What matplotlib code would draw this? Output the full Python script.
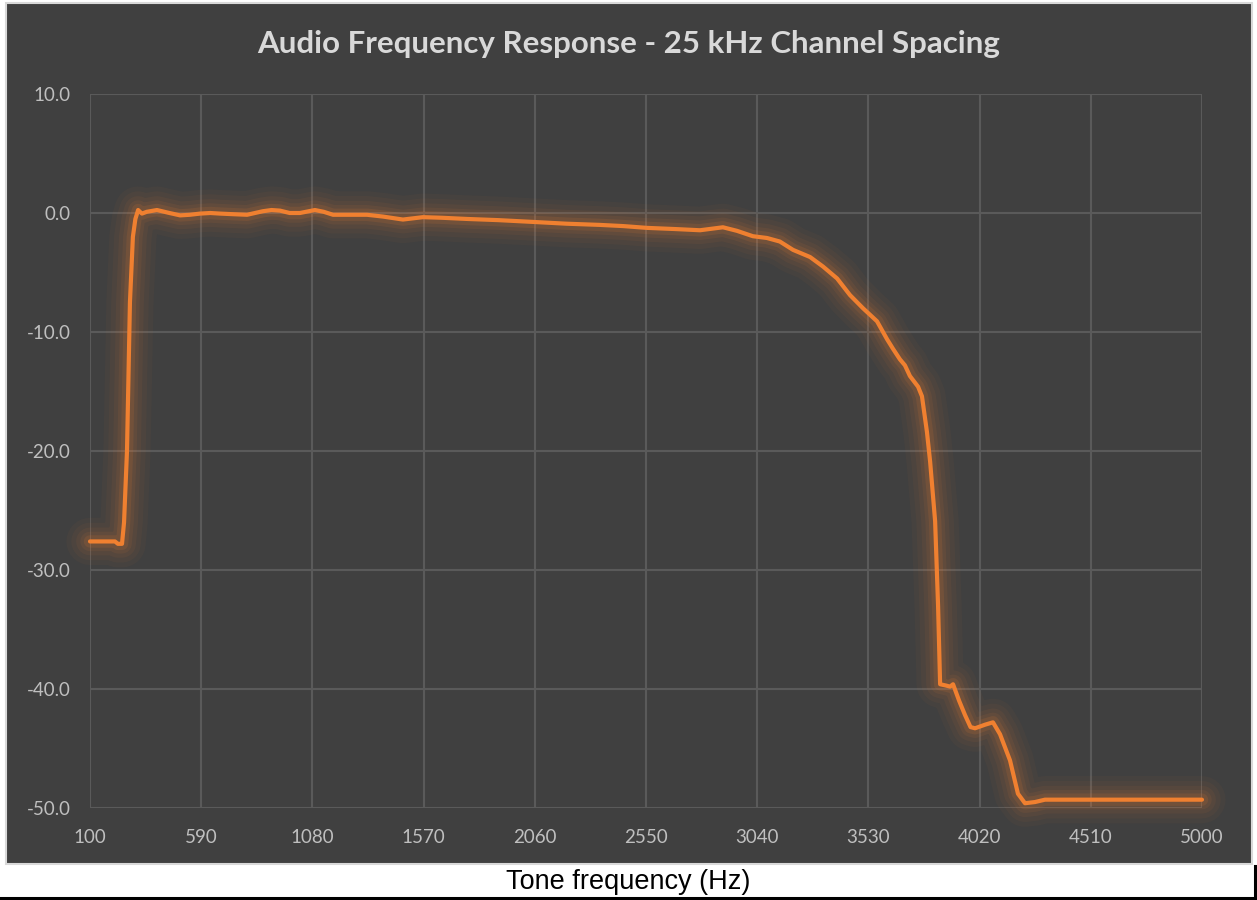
import matplotlib
matplotlib.use("Agg")
import matplotlib.pyplot as plt
from matplotlib.patches import Rectangle
from matplotlib.lines import Line2D

# ---- data ----
freq_hz = [100, 150, 210, 223, 241, 250, 263, 276, 289, 300, 312, 320, 329, 350, 395,
           450, 497, 540, 585, 630, 673, 730, 792, 862, 900, 937, 980, 1025, 1091, 1130,
           1171, 1250, 1321, 1391, 1479, 1567, 1650, 1761, 1900, 2052, 2200, 2347, 2450,
           2554, 2680, 2788, 2889, 2951, 3021, 3083, 3140, 3198, 3273, 3330, 3392, 3449,
           3506, 3568, 3612, 3638, 3669, 3691, 3713, 3749, 3766, 3788, 3802, 3824, 3837,
           3846, 3870, 3890, 3903, 3930, 3956, 3980, 4000, 4044, 4079, 4110, 4154, 4189,
           4220, 4264, 4308, 4500, 5000]
level_db = [-27.6, -27.6, -27.6, -27.8, -27.8, -26.0, -20.0, -7.5, -2.0, -0.5, 0.25, 0.1,
            -0.05, 0.1, 0.25, 0.0, -0.2, -0.15, -0.05, 0.0, -0.05, -0.1, -0.15, 0.15, 0.25,
            0.2, 0.0, 0.0, 0.25, 0.1, -0.15, -0.15, -0.15, -0.3, -0.55, -0.35, -0.4, -0.5,
            -0.6, -0.75, -0.9, -1.0, -1.1, -1.25, -1.35, -1.45, -1.2, -1.5, -1.95, -2.1,
            -2.4, -3.1, -3.7, -4.5, -5.5, -6.9, -8.0, -9.1, -10.6, -11.4, -12.3, -12.8,
            -13.7, -14.6, -15.4, -18.4, -20.9, -25.9, -33.0, -39.6, -39.7, -39.8, -39.6,
            -41.0, -42.2, -43.2, -43.3, -43.0, -42.8, -43.8, -46.0, -48.8, -49.6, -49.5,
            -49.3, -49.3, -49.3]
x_ticks = [100, 590, 1080, 1570, 2060, 2550, 3040, 3530, 4020, 4510, 5000]
y_ticks = [10.0, 0.0, -10.0, -20.0, -30.0, -40.0, -50.0]

title = "Audio Frequency Response - 25 kHz Channel Spacing"
xlabel = "Tone frequency (Hz)"

W, H = 1257, 900
fig = plt.figure(figsize=(W / 100, H / 100), dpi=100)
fig.patch.set_facecolor("white")

def fx(px):
    return px / W

def fy(py):
    return 1 - py / H

# dark chart panel with light grey border
fig.patches.append(Rectangle((fx(6), fy(864)), fx(1252 - 6), (864 - 3) / H,
                             transform=fig.transFigure, facecolor="#404040",
                             edgecolor="#d9d9d9", linewidth=1.5, zorder=-5))
# black frame lines (bottom and right)
fig.lines.append(Line2D([0, 1], [fy(898), fy(898)], transform=fig.transFigure,
                        color="black", linewidth=2.2, zorder=-4))
fig.lines.append(Line2D([fx(1255), fx(1255)], [fy(866), fy(900)], transform=fig.transFigure,
                        color="black", linewidth=2.2, zorder=-4))

ax = fig.add_axes([fx(90), fy(808), fx(1202 - 90), (808 - 94) / H])
ax.set_zorder(5)
ax.set_facecolor("none")
ax.set_xlim(100, 5000)
ax.set_ylim(-50, 10)
ax.set_xticks(x_ticks)
ax.set_xticklabels([str(v) for v in x_ticks])
ax.set_yticks(y_ticks)
ax.set_yticklabels([f"{v:.1f}" for v in y_ticks])
ax.tick_params(length=0, colors="#bfbfbf", labelsize=13.5)
ax.tick_params(axis="y", pad=14)
ax.tick_params(axis="x", pad=15)
for lab in ax.get_xticklabels() + ax.get_yticklabels():
    lab.set_family(["Lato", "DejaVu Sans"])
for s in ax.spines.values():
    s.set_visible(False)
ax.grid(True, color="#5a5a5a", linewidth=1.5)
ax.set_axisbelow(True)

# glow
for lw, a in [(34, 0.035), (27, 0.045), (20, 0.06), (14, 0.08), (9, 0.12)]:
    ax.plot(freq_hz, level_db, color="#ED7D31", linewidth=lw, alpha=a,
            solid_capstyle="round", solid_joinstyle="round", clip_on=False)
ax.plot(freq_hz, level_db, color="#F08030", linewidth=3.0,
        solid_capstyle="round", solid_joinstyle="round", clip_on=False)

fig.text(0.5, fy(44), title, ha="center", va="center", color="#d9d9d9",
         fontsize=22.5, fontweight="bold", family=["Lato", "DejaVu Sans"], zorder=6)
fig.text(0.5, fy(882), xlabel, ha="center", va="center", color="black",
         fontsize=19.5, family=["Liberation Sans", "DejaVu Sans"], zorder=6)

fig.savefig("out.png", dpi=100, facecolor="white")
